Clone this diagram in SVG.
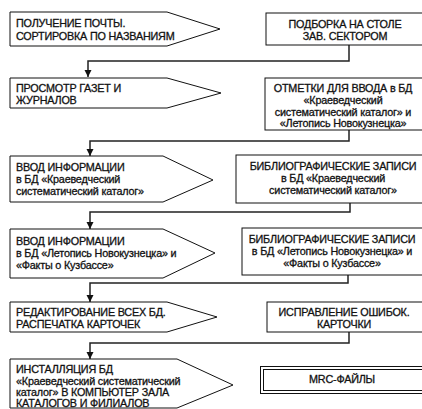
<svg xmlns="http://www.w3.org/2000/svg" width="422" height="409" viewBox="0 0 422 409">
<style>
.n{fill:#fff;stroke:#111;stroke-width:1}
.t{font-family:"Liberation Sans",Arial,sans-serif;font-size:10.8px;letter-spacing:-0.2px;fill:#111;stroke:#111;stroke-width:0.3}
.c{text-anchor:middle}
.k{fill:none;stroke:#222;stroke-width:1.5}
</style>
<defs>
<marker id="ah" viewBox="0 0 10 10" refX="10" refY="5" markerWidth="5" markerHeight="5.5" orient="auto" markerUnits="strokeWidth">
<path d="M0,0 L10,5 L0,10 Z" fill="#111"/>
</marker>
</defs>
<rect width="422" height="409" fill="#fff"/>
<g id="connectors">
<polyline class="k" points="349,45 349,61 88,61 88,77" marker-end="url(#ah)"/>
<polyline class="k" points="349,130 349,141 90,141 90,156" marker-end="url(#ah)"/>
<polyline class="k" points="350,203 350,212 90,212 90,229" marker-end="url(#ah)"/>
<polyline class="k" points="348,275 348,283 90,283 90,302" marker-end="url(#ah)"/>
<polyline class="k" points="349,332 349,343 90,343 90,359" marker-end="url(#ah)"/>
</g>
<g id="l1">
<polygon class="n" points="10,12 167,12 220,29 167,46 10,46"/>
<text class="t" x="16" y="27">ПОЛУЧЕНИЕ ПОЧТЫ.</text>
<text class="t" x="16" y="40">СОРТИРОВКА ПО НАЗВАНИЯМ</text>
</g>
<g id="r1">
<rect class="n" x="266" y="13" width="160" height="32"/>
<text class="t c" x="345" y="28">ПОДБОРКА НА СТОЛЕ</text>
<text class="t c" x="345" y="40">ЗАВ. СЕКТОРОМ</text>
</g>
<g id="l2">
<polygon class="n" points="10,78 167,78 221,93 167,108 10,108"/>
<text class="t" x="16" y="92">ПРОСМОТР ГАЗЕТ И</text>
<text class="t" x="16" y="104">ЖУРНАЛОВ</text>
</g>
<g id="r2">
<rect class="n" x="265" y="78" width="160" height="52"/>
<text class="t c" x="343" y="91.5">ОТМЕТКИ ДЛЯ ВВОДА в БД</text>
<text class="t c" x="343" y="103.5">«Краеведческий</text>
<text class="t c" x="343" y="115.5">систематический каталог» и</text>
<text class="t c" x="343" y="127">«Летопись Новокузнецка»</text>
</g>
<g id="l3">
<polygon class="n" points="10,156 163,156 213,180 163,202 10,202"/>
<text class="t" x="16" y="171">ВВОД ИНФОРМАЦИИ</text>
<text class="t" x="16" y="183">в БД «Краеведческий</text>
<text class="t" x="16" y="195">систематический каталог»</text>
</g>
<g id="r3">
<rect class="n" x="236" y="155" width="190" height="48"/>
<text class="t c" x="333" y="170">БИБЛИОГРАФИЧЕСКИЕ ЗАПИСИ</text>
<text class="t c" x="333" y="182">в БД «Краеведческий</text>
<text class="t c" x="333" y="193.5">систематический каталог»</text>
</g>
<g id="l4">
<polygon class="n" points="10,229 163,229 215,253 163,278 10,278"/>
<text class="t" x="16" y="245">ВВОД ИНФОРМАЦИИ</text>
<text class="t" x="16" y="257">в БД «Летопись Новокузнецка» и</text>
<text class="t" x="16" y="269">«Факты о Кузбассе»</text>
</g>
<g id="r4">
<rect class="n" x="242" y="228" width="184" height="47"/>
<text class="t c" x="332" y="243">БИБЛИОГРАФИЧЕСКИЕ ЗАПИСИ</text>
<text class="t c" x="332" y="255">в БД «Летопись Новокузнецка» и</text>
<text class="t c" x="332" y="267">«Факты о Кузбассе»</text>
</g>
<g id="l5">
<polygon class="n" points="10,302 167,302 217,317 167,332 10,332"/>
<text class="t" x="16" y="316">РЕДАКТИРОВАНИЕ ВСЕХ БД.</text>
<text class="t" x="16" y="328">РАСПЕЧАТКА КАРТОЧЕК</text>
</g>
<g id="r5">
<rect class="n" x="267" y="302" width="160" height="30"/>
<text class="t c" x="344" y="316">ИСПРАВЛЕНИЕ ОШИБОК.</text>
<text class="t c" x="344" y="328">КАРТОЧКИ</text>
</g>
<g id="l6">
<polygon class="n" points="10,359 177,359 233,385 177,408 10,408"/>
<text class="t" x="16" y="373">ИНСТАЛЛЯЦИЯ БД</text>
<text class="t" x="16" y="384.5">«Краеведческий систематический</text>
<text class="t" x="16" y="395.5">каталог» В КОМПЬЮТЕР ЗАЛА</text>
<text class="t" x="16" y="406.5">КАТАЛОГОВ И ФИЛИАЛОВ</text>
</g>
<g id="r6">
<rect class="n" x="260.5" y="366.5" width="170" height="27"/>
<rect class="n" x="263.5" y="369.5" width="170" height="21"/>
<text class="t c" x="342" y="383">MRC-ФАЙЛЫ</text>
</g>
</svg>
